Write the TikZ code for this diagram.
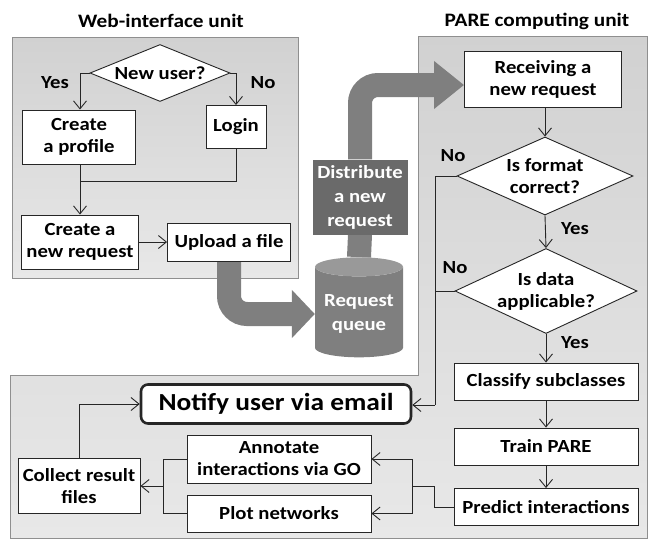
\documentclass[tikz,border=0pt]{standalone}
\usepackage{fontspec}
\setmainfont{Carlito}[FakeStretch=1.12]
\usetikzlibrary{arrows.meta, positioning, shapes.geometric, backgrounds}

\definecolor{paneledge}{HTML}{8F8F8F}
\definecolor{pipegray}{HTML}{7F7F7F}
\definecolor{boxgray}{HTML}{6A6A6A}

\begin{document}
\begin{tikzpicture}[
    x=1pt, y=-1pt,
    >={Straight Barb[length=8pt, width=13pt]},
    flow/.style={draw=black!85, line width=0.9pt},
    box/.style={draw=black!85, line width=0.9pt, fill=white, align=center,
        inner sep=2pt, font=\bfseries\fontsize{18.5}{22}\selectfont},
    decision/.style={box, diamond, aspect=2.2, inner sep=0pt},
    dark_box/.style={fill=boxgray, text=white, align=center,
        font=\bfseries\fontsize{18.5}{24}\selectfont},
    pipe/.style={draw=pipegray, line width=24pt, rounded corners=18pt},
    panel/.style={draw=paneledge, line width=0.9pt, top color=black!18, bottom color=black!9},
    label_text/.style={font=\bfseries\fontsize{18.5}{20}\selectfont},
    title_text/.style={font=\bfseries\fontsize{19}{22}\selectfont}
]
    \useasboundingbox (0, 0) rectangle (650, 541);

    % === 1. Web-interface unit ===
    \node[title_text] (web_title) at (161, 21) {Web-interface unit};

    \node[decision, minimum width=140pt, minimum height=57pt] (new_user) at (160, 73) {New user?};
    \node[box, minimum width=113pt, minimum height=54pt] (profile) at (79, 137) {Create\\a profile};
    \node[box, minimum width=60pt, minimum height=43pt] (login) at (236, 127) {Login};
    \node[box, minimum width=117pt, minimum height=54pt] (request) at (80, 242) {Create a\\new request};
    \node[box, minimum width=123pt, minimum height=38pt] (upload) at (229, 242) {Upload a file};

    \node[label_text] (yes_user) at (55, 83) {Yes};
    \node[label_text] (no_user) at (263, 83) {No};

    \coordinate (join_web) at (80, 181);
    \draw[flow, ->] (new_user.west) -| (profile.north -| join_web);
    \draw[flow, ->] (new_user.east) -| (login.north);
    \draw[flow] (login.south) |- (join_web);
    \draw[flow, ->] (profile.south -| join_web) -- (request.north);
    \draw[flow, ->] (request.east |- upload.west) -- (upload.west);

    % === 2. PARE computing unit ===
    \node[title_text] (pare_title) at (537, 21) {PARE computing unit};

    \node[box, minimum width=157pt, minimum height=56pt] (receive) at (543, 79) {Receiving a\\new request};
    \node[decision, minimum width=176pt, minimum height=78pt] (format) at (545, 176) {Is format\\correct?};
    \node[decision, minimum width=182pt, minimum height=85pt] (data) at (546, 291) {Is data\\applicable?};
    \node[box, minimum width=184pt, minimum height=37pt] (classify) at (546, 381.5) {Classify subclasses};
    \node[box, minimum width=184pt, minimum height=37pt] (train) at (546, 446.5) {Train PARE};
    \node[box, minimum width=184pt, minimum height=37pt] (predict) at (546, 507) {Predict interactions};

    \node[label_text] (no_format) at (453, 156) {No};
    \node[label_text] (yes_format) at (575, 229) {Yes};
    \node[label_text] (no_data) at (455, 268) {No};
    \node[label_text] (yes_data) at (575, 343) {Yes};

    \draw[flow, ->] (format.north |- receive.south) -- (format.north);
    \draw[flow, ->] (format.south) -- (data.north);
    \draw[flow, ->] (data.south) -- (classify.north);
    \draw[flow, ->] (classify) -- (train);
    \draw[flow, ->] (train) -- (predict);

    % === 3. Results ===
    \node[box, rounded corners=7pt, line width=2.6pt, minimum width=270pt, minimum height=39pt,
        font=\bfseries\fontsize{24.5}{28}\selectfont] (notify) at (276, 404) {Notify user via email};
    \node[box, minimum width=122pt, minimum height=55pt] (collect) at (79, 486) {Collect result\\files};
    \node[box, minimum width=184pt, minimum height=48pt] (annotate) at (279, 459) {Annotate\\interactions via GO};
    \node[box, minimum width=184pt, minimum height=37pt] (plot) at (279, 513.5) {Plot networks};

    \coordinate (no_bus) at (435, 405);
    \draw[flow] (format.west) -| (no_bus);
    \draw[flow] (data.west) -- (data.west -| no_bus);
    \draw[flow, ->] (no_bus) -- (notify.east |- no_bus);

    \coordinate (fork_right) at (412, 486);
    \draw[flow] (predict.west) -- ++(-19, 0) |- (fork_right);
    \draw[flow, ->] (fork_right) |- (annotate.east);
    \draw[flow, ->] (fork_right) |- (plot.east);

    \coordinate (fork_left) at (163, 486);
    \draw[flow] (annotate.west) -| (fork_left);
    \draw[flow] (plot.west) -| (fork_left);
    \draw[flow, ->] (fork_left) -- (collect.east);
    \draw[flow, ->] (collect.north) |- (notify.west);

    % === 4. Request queue ===
    \node[dark_box, minimum width=95pt, minimum height=75pt] (distribute) at (360, 197) {Distribute\\a new\\request};
    \node[cylinder, shape border rotate=90, aspect=0.25, minimum width=88pt, minimum height=100pt,
        cylinder uses custom fill, cylinder body fill=pipegray, cylinder end fill=pipegray!80!white,
        text=white, align=center, font=\bfseries\fontsize{18.5}{24}\selectfont] (queue) at (359, 314) {Request\\queue};

    \begin{scope}[on background layer]
        \path[panel] (12, 37) rectangle (298, 278);
        \path[panel] (418, 36) -- (647, 36) -- (647, 538) -- (10, 538) -- (10, 375) -- (418, 375) -- cycle;
        \draw[pipe] (distribute.south) -- (queue.north);
        \draw[pipe, -{Triangle[length=23pt, width=47pt]}] (upload.south) |- (queue.west);
        \draw[pipe, -{Triangle[length=30pt, width=46pt]}] (distribute.north) |- ([yshift=-6pt]receive.west);
    \end{scope}

\end{tikzpicture}
\end{document}
